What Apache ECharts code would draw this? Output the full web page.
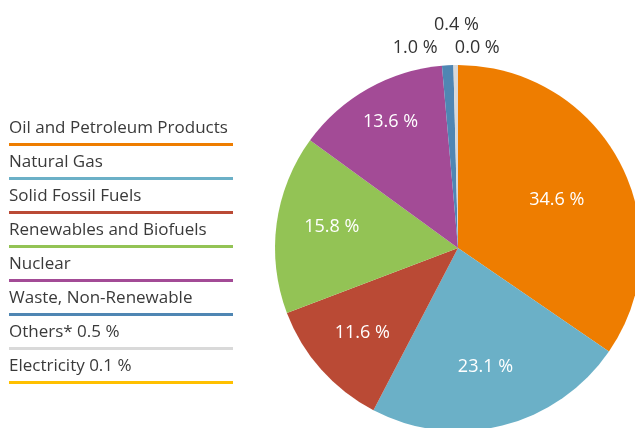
<!DOCTYPE html>
<html><head><meta charset="utf-8">
<script src="https://cdn.jsdelivr.net/npm/echarts@6/dist/echarts.min.js"></script>
<style>html,body{margin:0;padding:0;background:#fff}#c{width:635px;height:428px}</style>
</head><body><div id="c"></div>
<script>
const categories = ['Oil and Petroleum Products','Natural Gas','Solid Fossil Fuels','Renewables and Biofuels','Nuclear','Waste, Non-Renewable','Others* 0.5 %','Electricity 0.1 %'];
const shares = [34.6, 23.1, 11.6, 15.8, 13.6, 1.0, 0.4, 0.0];
const colors = ['#EE7D00','#6BB0C7','#BA4A35','#93C355','#A34B96','#4F86B3','#D9D9D9','#FFC000'];
// label placement styling: distance as fraction of radius, angular nudge (deg)
const labelRadius = [0.60,0.665,0.70,0.70,0.78,1.12,1.22,1.10];
const labelNudge = [1.9,1.0,0,2.0,1.3,-8.8,0.3,5.5];
const labelColor = ['#fff','#fff','#fff','#fff','#fff','#333','#333','#333'];

const FONT = 'Open Sans';
const CX = 458, CY = 248, R = 183;
const total = shares.reduce((a,b)=>a+b,0);
const mids = []; let cum = 0;
shares.forEach(v => { mids.push((cum + v/2)/total*360); cum += v; });

const rich = { t: { fontSize: 17, lineHeight: 29, color: '#3a3a3a', fontFamily: FONT } };
colors.forEach((c,i) => { rich['l'+i] = { width: 224, height: 3, lineHeight: 3, backgroundColor: c }; });

const chart = echarts.init(document.getElementById('c'), null, {renderer:'canvas'});
chart.setOption({
  animation: false,
  backgroundColor: '#fff',
  legend: {
    orient: 'vertical', left: 4, top: 120, padding: 0, itemWidth: 0, itemHeight: 0, itemGap: 3.5,
    selectedMode: false, data: categories,
    formatter: name => '{t|' + name + '}\n{l' + categories.indexOf(name) + '|}',
    textStyle: { fontFamily: FONT, rich: rich }
  },
  series: [{
    type: 'pie', center: [CX, CY], radius: R, startAngle: 90, clockwise: true,
    avoidLabelOverlap: false, emphasis: { disabled: true }, silent: true,
    label: { position: 'outside', fontSize: 18, fontFamily: FONT,
      formatter: p => p.value.toFixed(1) + ' %' },
    labelLine: { show: false },
    labelLayout: p => {
      const i = p.dataIndex;
      const a = (mids[i] + labelNudge[i]) * Math.PI / 180;
      const d = labelRadius[i] * R;
      return { x: CX + d*Math.sin(a), y: CY - d*Math.cos(a), align: 'center', verticalAlign: 'middle' };
    },
    data: categories.map((n,i) => ({ name: n, value: shares[i], itemStyle: { color: colors[i] }, label: { color: labelColor[i] } }))
  }]
});
</script></body></html>
